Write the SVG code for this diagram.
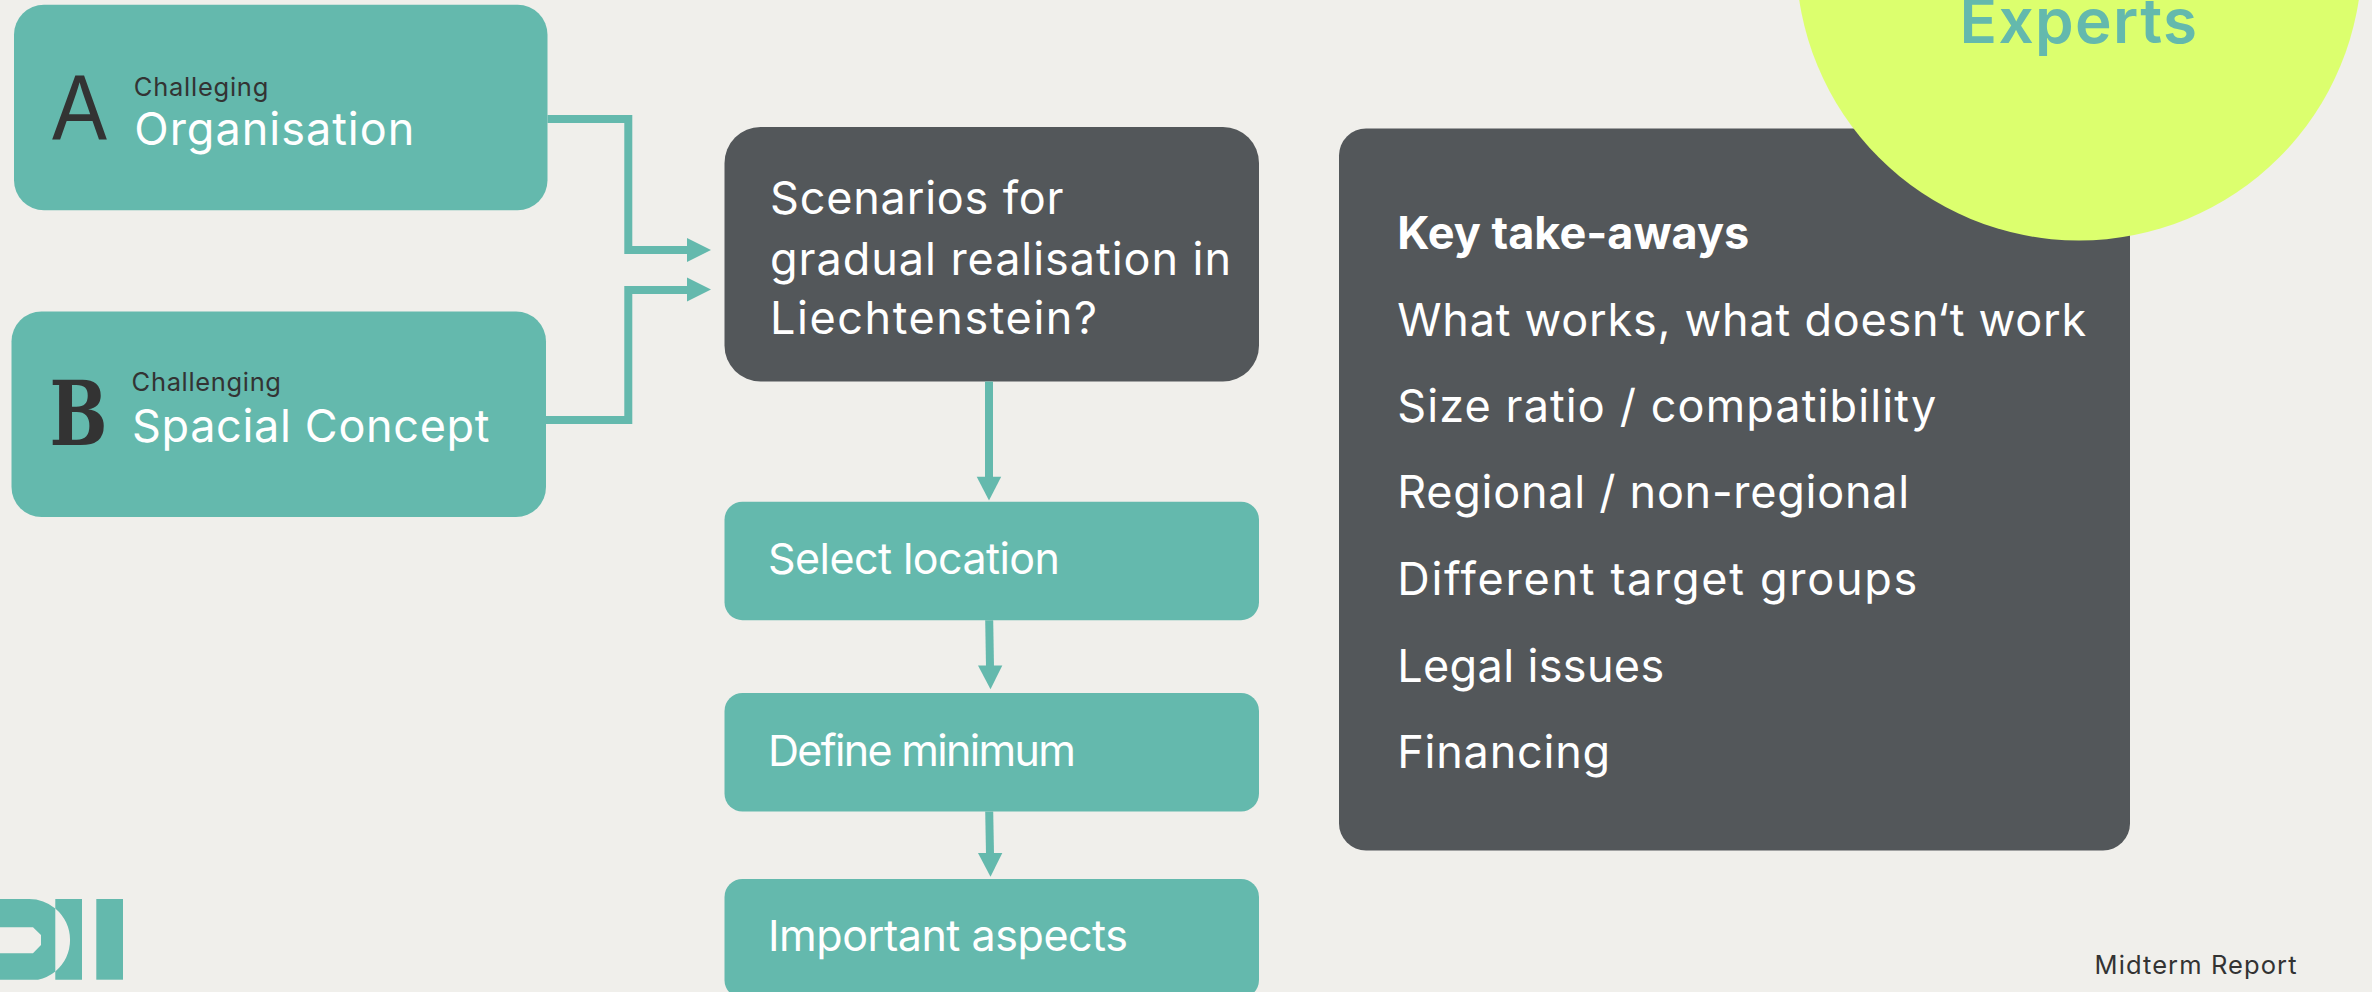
<svg xmlns="http://www.w3.org/2000/svg" width="2372" height="992" viewBox="0 0 2372 992">
<style>
text{font-family:"Inter","Liberation Sans",sans-serif;}
.teal{fill:#64b9ad}.dark{fill:#53575a}
.w{fill:#fff;font-size:45px}
.s{fill:#fff;font-size:43px}
.k{fill:#333;font-size:25.5px}
.line{fill:none;stroke:#64b9ad;stroke-width:8}
.head{fill:#64b9ad}
</style>
<rect id="background" width="2372" height="992" fill="#f0efeb"/>
<g id="node-key-takeaways">
<rect class="dark" x="1339" y="128.5" width="791" height="722" rx="27"/>
<text class="w" x="1397.2" y="249" font-weight="700" textLength="352">Key take-aways</text>
<text class="w" x="1397.2" y="335.7" textLength="689">What works, what doesn‘t work</text>
<text class="w" x="1397.2" y="421.7" textLength="539">Size ratio / compatibility</text>
<text class="w" x="1397.2" y="507.7" textLength="512">Regional / non-regional</text>
<text class="w" x="1397.2" y="594.5" textLength="520">Different target groups</text>
<text class="w" x="1397.2" y="681.5" textLength="267">Legal issues</text>
<text class="w" x="1397.2" y="767.5" textLength="213">Financing</text>
</g>
<g id="node-experts">
<circle cx="2079" cy="-42.5" r="283" fill="#dcff6e"/>
<text class="teal" x="1959.5" y="42.7" font-size="62" font-weight="600" textLength="237.5">Experts</text>
</g>
<g id="node-a">
<rect class="teal" x="14" y="4.7" width="533.5" height="205.5" rx="30"/>
<text x="52" y="140" font-size="92" fill="#333" style="font-family:'Liberation Sans',sans-serif" textLength="55" lengthAdjust="spacingAndGlyphs">A</text>
<text class="k" x="133.8" y="96" textLength="134.5">Challeging</text>
<text class="w" x="134.3" y="145.3" textLength="280">Organisation</text>
</g>
<g id="node-b">
<rect class="teal" x="11.5" y="311.5" width="534.5" height="205.5" rx="30"/>
<text x="49.5" y="445" font-size="90" font-weight="700" fill="#333" style="font-family:'DejaVu Serif',serif" textLength="58" lengthAdjust="spacingAndGlyphs">B</text>
<text class="k" x="131.6" y="391.4" textLength="149.4">Challenging</text>
<text class="w" x="132" y="442.4" textLength="357.5">Spacial Concept</text>
</g>
<g id="node-scenarios">
<rect class="dark" x="724.5" y="127" width="534.5" height="254.5" rx="36"/>
<text class="w" x="770" y="214" textLength="293.5">Scenarios for</text>
<text class="w" x="770" y="274.5" textLength="461">gradual realisation in</text>
<text class="w" x="770" y="333.5" textLength="327">Liechtenstein?</text>
</g>
<g id="node-select">
<rect class="teal" x="724.5" y="501.7" width="534.5" height="118.5" rx="18"/>
<text class="s" x="768" y="573.5" textLength="292">Select location</text>
</g>
<g id="node-define">
<rect class="teal" x="724.5" y="693" width="534.5" height="118.5" rx="18"/>
<text class="s" x="768" y="766" textLength="308">Define minimum</text>
</g>
<g id="node-important">
<rect class="teal" x="724.5" y="879" width="534.5" height="119" rx="18"/>
<text class="s" x="768" y="951" textLength="360">Important aspects</text>
</g>
<g id="connectors">
<path class="line" d="M547.5 119H628.3V250H688"/>
<polygon class="head" points="687,238 711,250 687,262"/>
<path class="line" d="M546 420H628.3V290H688"/>
<polygon class="head" points="687,277.6 711,289.6 687,301.6"/>
<path class="line" d="M989 381.5V478"/>
<polygon class="head" points="976.7,476.8 1001.2,476.8 989,500.5"/>
<path class="line" d="M989.2 620.2L990 667"/>
<polygon class="head" points="978,665.6 1002.3,665.6 990.5,689.3"/>
<path class="line" d="M989.2 811.5L990 854"/>
<polygon class="head" points="978,853 1002.3,853 990.5,876.8"/>
</g>
<g id="logo">
<path class="teal" fill-rule="evenodd" d="M0 899H29A41 41 0 0 1 55.3 908.5V971.5A41 41 0 0 1 38 979.7H0ZM0 927.3V953.3H33L41 945V935L33 927.3Z"/>
<path class="teal" d="M55.3 899H82V979.7H55.3V971.5A41 41 0 0 0 55.3 908.5Z"/>
<rect class="teal" x="96.3" y="899" width="26.7" height="80.7"/>
</g>
<g id="footer">
<text class="k" x="2094.5" y="974" textLength="202">Midterm Report</text>
</g>
</svg>
